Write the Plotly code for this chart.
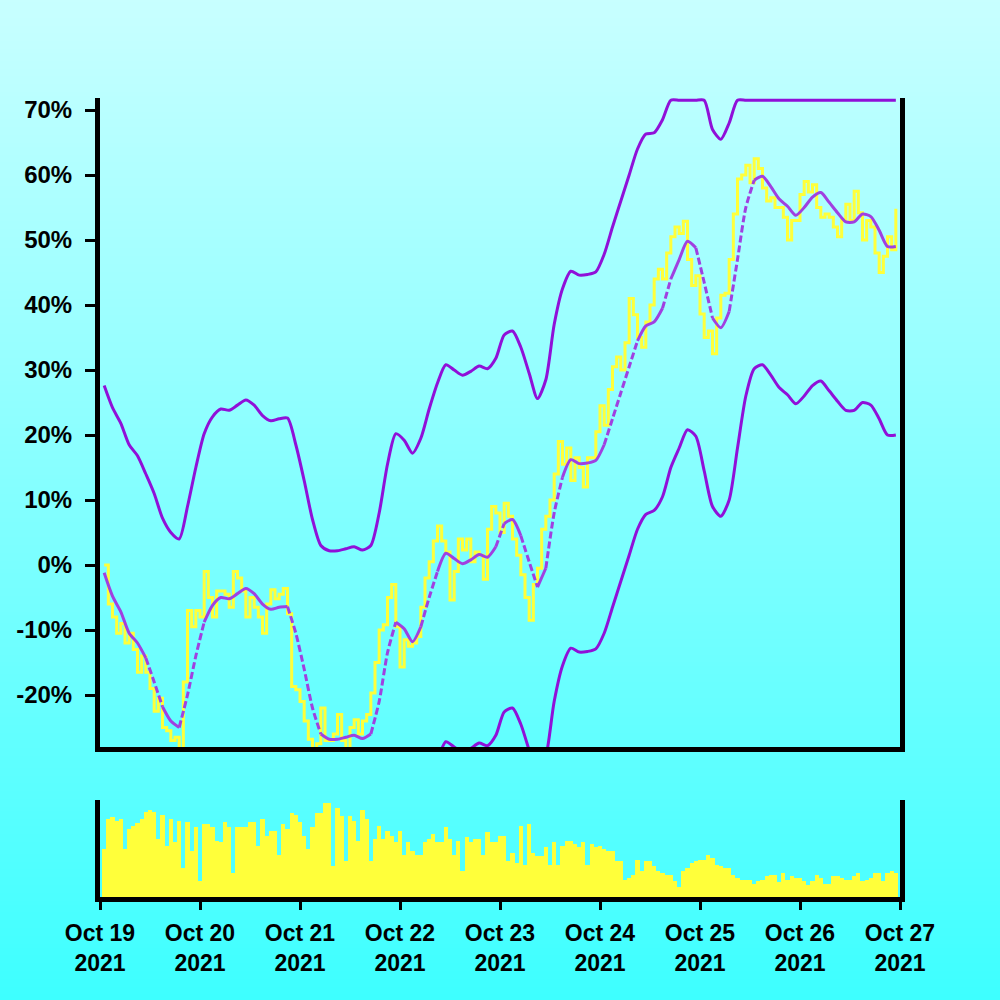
import base64, zlib, struct
import pandas as pd
import plotly.graph_objects as go

# ---------------- data ----------------
price_start = "2021-10-19 01:00"
band_start = "2021-10-19 01:00"

price_pct = [
    0, -6, -8, -10.5, -9, -12, -10.5, -13, -16.5, -14,
    -16.5, -19, -22.5, -20.5, -25, -25.5, -27, -26.5, -29, -18,
    -7, -9.5, -7, -8, -1, -5, -8, -4, -4, -4.5,
    -6.5, -1, -2, -4, -8, -5, -6.5, -8, -10.5, -6,
    -3.8, -5.2, -4.5, -3.6, -7.5, -18.7, -19.2, -21, -24, -26.8,
    -29, -27.5, -22, -27, -27, -26, -23, -27, -28.5, -25,
    -23.8, -26, -24, -23, -19.7, -15, -10, -9.2, -5, -3,
    -9.5, -15.7, -11.5, -12.5, -12, -11, -6.5, -2, 0.5, 3.7,
    6, 3.7, 2, -5.4, -1, 4, 2.3, 4, 0.5, 2,
    1.5, -2.2, 5.5, 9, 8, 5, 9.5, 7.5, 4, 1.5,
    -1.5, -5, -8.5, -3, -0.5, 5.5, 7.5, 10, 14, 19,
    15.5, 18, 13, 16.5, 15, 12, 16.5, 16.5, 20.5, 24.5,
    21.5, 27, 30.5, 32, 30, 34.2, 41, 38.5, 35, 33.5,
    37.4, 40, 44, 45.5, 44, 48, 50.5, 52, 51, 52.9,
    47, 43, 44.5, 38.6, 35, 36, 32.5, 38, 41.5, 41.8,
    47, 54, 59.4, 60, 61.5, 58.8, 62.5, 61, 58, 56,
    56.5, 55, 55, 53.5, 50, 53, 53, 57, 59, 57.4,
    58.5, 55, 53.5, 54, 53.5, 52, 50.5, 53, 55.5, 53,
    57.5, 54.2, 50, 53, 52, 48, 45, 47.5, 50.5, 48.5,
    54.8,
]

volume = [
    50, 80, 82, 78, 80, 50, 70, 73, 76, 80,
    88, 90, 88, 60, 85, 53, 80, 57, 78, 30,
    77, 47, 72, 17, 75, 75, 72, 58, 57, 77,
    72, 25, 72, 72, 72, 77, 77, 53, 80, 63,
    68, 68, 43, 75, 70, 87, 85, 77, 63, 50,
    72, 87, 87, 97, 97, 32, 92, 83, 37, 83,
    78, 58, 90, 80, 37, 60, 73, 60, 68, 63,
    57, 68, 43, 57, 47, 43, 43, 57, 60, 65,
    57, 57, 72, 60, 43, 58, 27, 62, 57, 60,
    60, 43, 67, 57, 57, 63, 63, 37, 45, 35,
    73, 33, 75, 45, 42, 42, 52, 33, 57, 33,
    53, 58, 58, 55, 52, 57, 33, 55, 52, 53,
    50, 47, 47, 37, 37, 18, 20, 23, 38, 27,
    37, 37, 32, 27, 25, 23, 23, 17, 10, 27,
    30, 35, 37, 38, 38, 43, 40, 33, 32, 30,
    30, 23, 20, 18, 18, 18, 13, 17, 18, 22,
    23, 23, 15, 25, 18, 22, 20, 20, 17, 12,
    17, 23, 20, 13, 13, 22, 22, 20, 18, 18,
    22, 25, 17, 18, 20, 25, 25, 17, 25, 27,
    25,
]

ma_mid = [
    -1.2, -4.8, -7.2, -10.5, -12.0, -14.3, -18.0, -21.8, -24.0, -25.0,
    -20.0, -14.0, -8.8, -6.2, -5.0, -5.2, -4.4, -3.6, -4.4, -6.0,
    -6.8, -6.5, -6.4, -10.5, -16.0, -22.0, -26.0, -26.8, -26.8, -26.5,
    -26.2, -26.7, -26.0, -21.0, -13.5, -8.8, -9.8, -11.8, -9.5, -5.0,
    -1.0, 1.8, 1.0, 0.2, 0.8, 1.6, 1.2, 2.8, 6.4, 7.0,
    4.5, 0.5, -3.4, -0.5, 8.0, 13.5, 16.2, 15.6, 15.7, 16.1,
    18.5, 22.5, 26.5, 30.5, 34.5, 36.8, 37.4, 39.5, 44.0, 47.0,
    49.8, 48.8, 43.5, 38.0, 36.5, 39.0, 47.0, 55.0, 59.2, 59.8,
    58.2, 56.3, 55.2, 53.8, 55.0, 56.6, 57.3, 55.8, 54.2, 52.8,
    52.8, 54.0, 53.6, 51.5, 49.0, 49.0,
]

band_upper = [
    27.6, 24.2, 21.8, 18.5, 16.8, 14.0, 11.0, 7.2, 5.0, 4.0,
    9.0, 15.0, 20.2, 22.8, 24.0, 23.8, 24.6, 25.4, 24.6, 23.0,
    22.2, 22.5, 22.6, 18.5, 13.0, 7.0, 3.0, 2.2, 2.2, 2.5,
    2.8, 2.3, 3.0, 8.0, 15.5, 20.2, 19.2, 17.2, 19.5, 24.0,
    28.0, 30.8, 30.0, 29.2, 29.8, 30.6, 30.2, 31.8, 35.4, 36.0,
    33.5, 29.5, 25.6, 28.5, 37.0, 42.5, 45.2, 44.6, 44.7, 45.1,
    47.8, 52.0, 56.0, 60.0, 64.0, 66.3, 66.5, 68.5, 71.5, 71.5,
    71.5, 71.5, 71.5, 67.0, 65.5, 68.0, 71.5, 71.5, 71.5, 71.5,
    71.5, 71.5, 71.5, 71.5, 71.5, 71.5, 71.5, 71.5, 71.5, 71.5,
    71.5, 71.5, 71.5, 71.5, 71.5, 71.5,
]

band_lower = [
    -30.2, -33.8, -36.2, -39.5, -41.0, -43.3, -47.0, -50.8, -53.0, -54.0,
    -49.0, -43.0, -37.8, -35.2, -34.0, -34.2, -33.4, -32.6, -33.4, -35.0,
    -35.8, -35.5, -35.4, -39.5, -45.0, -51.0, -55.0, -55.8, -55.8, -55.5,
    -55.2, -55.7, -55.0, -50.0, -42.5, -37.8, -38.8, -40.8, -38.5, -34.0,
    -30.0, -27.2, -28.0, -28.8, -28.2, -27.4, -27.8, -26.2, -22.6, -22.0,
    -24.5, -28.5, -32.4, -29.5, -21.0, -15.5, -12.8, -13.4, -13.3, -12.9,
    -10.5, -6.5, -2.5, 1.5, 5.5, 7.8, 8.4, 10.5, 15.0, 18.0,
    20.8, 19.8, 14.5, 9.0, 7.5, 10.0, 18.0, 26.0, 30.2, 30.8,
    29.2, 27.3, 26.2, 24.8, 26.0, 27.6, 28.3, 26.8, 25.2, 23.8,
    23.8, 25.0, 24.6, 22.5, 20.0, 20.0,
]

y_tickvals = [-20, -10, 0, 10, 20, 30, 40, 50, 60, 70]
y_ticktext = ["-20%", "-10%", "0%", "10%", "20%", "30%", "40%", "50%", "60%", "70%"]
x_tickvals = ["2021-10-%02d" % d for d in range(19, 28)]
x_ticktext = ["Oct %d<br>2021" % d for d in range(19, 28)]

# ---------------- build ----------------
t_price = pd.date_range(price_start, periods=len(price_pct), freq="h")
t_band = pd.date_range(band_start, periods=len(ma_mid), freq="2h")

YELLOW = "#ffff3a"
PURPLE = "#9010d8"
PURPLE_MID = "#a040e0"
YFONT = dict(family="Liberation Sans, Arial, sans-serif", size=24, color="black", weight="bold")
XFONT = dict(family="Liberation Sans, Arial, sans-serif", size=23, color="black", weight="bold")


def split_by_slope(xs, ys, thr):
    sx, sy, dx, dy = [], [], [], []
    for i in range(len(ys) - 1):
        steep = abs(ys[i + 1] - ys[i]) > thr
        tx, ty = (dx, dy) if steep else (sx, sy)
        if tx and tx[-1] is not None and tx[-1] == xs[i]:
            tx.append(xs[i + 1]); ty.append(ys[i + 1])
        else:
            if tx:
                tx.append(None); ty.append(None)
            tx += [xs[i], xs[i + 1]]; ty += [ys[i], ys[i + 1]]
    return sx, sy, dx, dy


def gradient_png(top, bottom, h=256):
    rows = []
    for i in range(h):
        f = i / (h - 1)
        rows.append(b"\x00" + bytes(int(round(top[c] + (bottom[c] - top[c]) * f)) for c in range(3)))
    raw = b"".join(rows)

    def chunk(t, d):
        return struct.pack(">I", len(d)) + t + d + struct.pack(">I", zlib.crc32(t + d) & 0xFFFFFFFF)

    png = (b"\x89PNG\r\n\x1a\n" + chunk(b"IHDR", struct.pack(">IIBBBBB", 1, h, 8, 2, 0, 0, 0))
           + chunk(b"IDAT", zlib.compress(raw)) + chunk(b"IEND", b""))
    return "data:image/png;base64," + base64.b64encode(png).decode()


xs_band = list(t_band)
sx, sy, dx, dy = split_by_slope(xs_band, ma_mid, 3.6)

fig = go.Figure()
fig.add_trace(go.Scatter(x=t_price, y=price_pct, mode="lines", line=dict(color=YELLOW, width=3, shape="hv"),
                         xaxis="x", yaxis="y"))
fig.add_trace(go.Scatter(x=sx, y=sy, mode="lines", line=dict(color=PURPLE_MID, width=3, shape="spline", smoothing=0.7),
                         xaxis="x", yaxis="y"))
fig.add_trace(go.Scatter(x=dx, y=dy, mode="lines",
                         line=dict(color=PURPLE_MID, width=3, dash="7px,3px", shape="spline", smoothing=0.7),
                         xaxis="x", yaxis="y"))
fig.add_trace(go.Scatter(x=t_band, y=band_upper, mode="lines",
                         line=dict(color=PURPLE, width=3, shape="spline", smoothing=0.7), xaxis="x", yaxis="y"))
fig.add_trace(go.Scatter(x=t_band, y=band_lower, mode="lines",
                         line=dict(color=PURPLE, width=3, shape="spline", smoothing=0.7), xaxis="x", yaxis="y"))
fig.add_trace(go.Bar(x=t_price, y=volume, width=3600000, marker=dict(color=YELLOW, line=dict(width=0)),
                     xaxis="x2", yaxis="y2"))

W, H = 1000, 1000
ML, MR, MT, MB = 100, 100, 98, 103
PW, PH = W - ML - MR, H - MT - MB
main_bottom = (897 - 747) / PH
vol_top = (897 - 800) / PH

xr = ["2021-10-19 00:00", "2021-10-27 00:00"]
fig.update_layout(
    width=W, height=H, autosize=False,
    margin=dict(l=ML, r=MR, t=MT, b=MB, pad=0),
    paper_bgcolor="#80ffff", plot_bgcolor="rgba(0,0,0,0)",
    showlegend=False, bargap=0,
    images=[dict(source=gradient_png((200, 255, 255), (62, 255, 255)), xref="paper", yref="paper",
                 x=-ML / PW, y=1 + MT / PH, sizex=W / PW, sizey=H / PH, sizing="stretch",
                 xanchor="left", yanchor="top", layer="below")],
    xaxis=dict(domain=[0, 1], anchor="y", range=xr, type="date", showline=True, linewidth=5, linecolor="black",
               ticks="", showticklabels=False, showgrid=False, zeroline=False),
    yaxis=dict(domain=[main_bottom, 1], anchor="x", range=[-28, 71.85], showline=True, linewidth=5,
               linecolor="black", mirror=True, ticks="outside", ticklen=10, tickwidth=3, tickcolor="black",
               tickmode="array", tickvals=y_tickvals, ticktext=y_ticktext, tickfont=YFONT,
               showgrid=False, zeroline=False, ticklabelstandoff=8),
    xaxis2=dict(domain=[0, 1], anchor="y2", range=xr, type="date", showline=True, linewidth=5, linecolor="black",
                ticks="outside", ticklen=8, tickwidth=3, tickcolor="black", tickmode="array",
                tickvals=x_tickvals, ticktext=x_ticktext, tickfont=XFONT, showgrid=False, zeroline=False,
                ticklabelstandoff=3),
    yaxis2=dict(domain=[0, vol_top], anchor="x2", range=[0, 100], showline=True, linewidth=5, linecolor="black",
                mirror=True, ticks="", showticklabels=False, showgrid=False, zeroline=False),
)

fig.write_html("out.html", config={"displayModeBar": False},
               post_script="document.body.style.margin='0';")
